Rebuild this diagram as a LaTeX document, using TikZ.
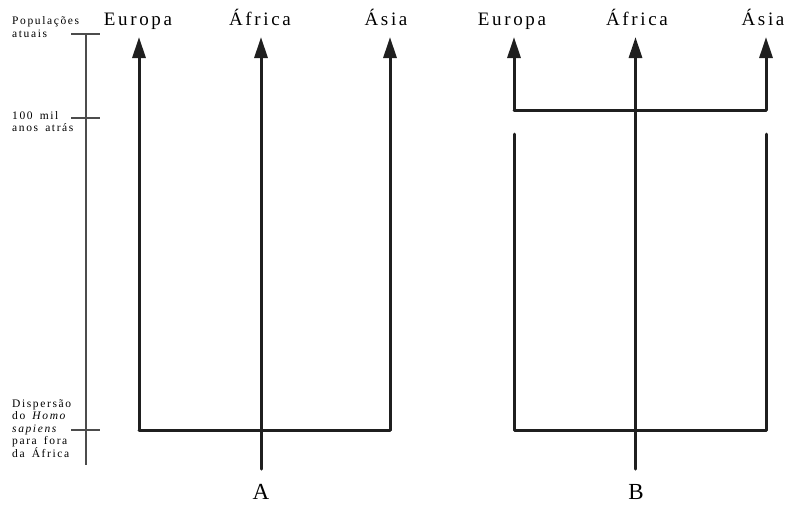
\documentclass[tikz,border=0pt]{standalone}
\usepackage{fontspec}
\setmainfont{Liberation Serif}
\newfontfamily\spaced[LetterSpace=14]{Liberation Serif}
\newfontfamily\smallspaced[LetterSpace=14,WordSpace=1.6]{Liberation Serif}
\usetikzlibrary{arrows.meta}
\begin{document}
\begin{tikzpicture}[x=1pt,y=-1pt,
  branch/.style={line width=3pt,line join=round,line cap=round,black!88},
  lineage/.style={branch,-{Triangle[width=13pt,length=21pt]}},
  scalebar/.style={line width=1.3pt,black!70},
  region/.style={font=\spaced\fontsize{19}{21}\selectfont,inner sep=0pt,anchor=base},
  panel/.style={font=\fontsize{23}{25}\selectfont,inner sep=0pt,anchor=base},
  era/.style={font=\smallspaced\fontsize{11.5}{12.5}\selectfont,inner sep=0pt,align=left,anchor=base west}]
\useasboundingbox (0,0) rectangle (797,504);

% time scale
\coordinate (sTop) at (86,34);
\coordinate (sMid) at (86,118);
\coordinate (sLow) at (86,430);
\coordinate (sEnd) at (86,465);
\draw[scalebar] (sTop) -- (sEnd);
\foreach \t in {sTop,sMid,sLow}
  \draw[scalebar] ([xshift=-15pt]\t) -- ([xshift=14pt]\t);
% multi-line labels: the base anchor sits on the last line
\node[era] (lblNow) at (12,37) {Populações\\atuais};
\node[era] (lblMil) at (12,131.5) {100 mil\\anos atrás};
\node[era] (lblOut) at (12,457) {Dispersão\\do \textit{Homo}\\\textit{sapiens}\\para fora\\da África};

% model A
\node[region] (aEu) at (138,25) {Europa};
\node[region] (aAf) at (260,25) {África};
\node[region] (aAs) at (386,25) {Ásia};
\node[panel] (aLbl) at (261,499) {A};
\coordinate (aL) at (139,430);
\coordinate (aR) at (390,430);
\coordinate (aRoot) at (261,469);
\draw[branch] (aL) -- (aR);
\draw[lineage] (aL) -- (139,37);
\draw[lineage] (aR) -- (390,37);
\draw[lineage] (aRoot) -- (261,37);

% model B
\node[region] (bEu) at (512,25) {Europa};
\node[region] (bAf) at (637,25) {África};
\node[region] (bAs) at (763,25) {Ásia};
\node[panel] (bLbl) at (636,499) {B};
\coordinate (bL) at (514,430);
\coordinate (bR) at (766,430);
\coordinate (bRoot) at (635.5,469);
\coordinate (bLtop) at (514,134);
\coordinate (bRtop) at (766,134);
\coordinate (bJL) at (514,110);
\coordinate (bJR) at (766,110);
\draw[branch] (bLtop) -- (bL) -- (bR) -- (bRtop);
\draw[branch] (bJL) -- (bJR);
\draw[lineage] (bJL) -- (514,37);
\draw[lineage] (bJR) -- (766,37);
\draw[lineage] (bRoot) -- (635.5,37);
\end{tikzpicture}
\end{document}
